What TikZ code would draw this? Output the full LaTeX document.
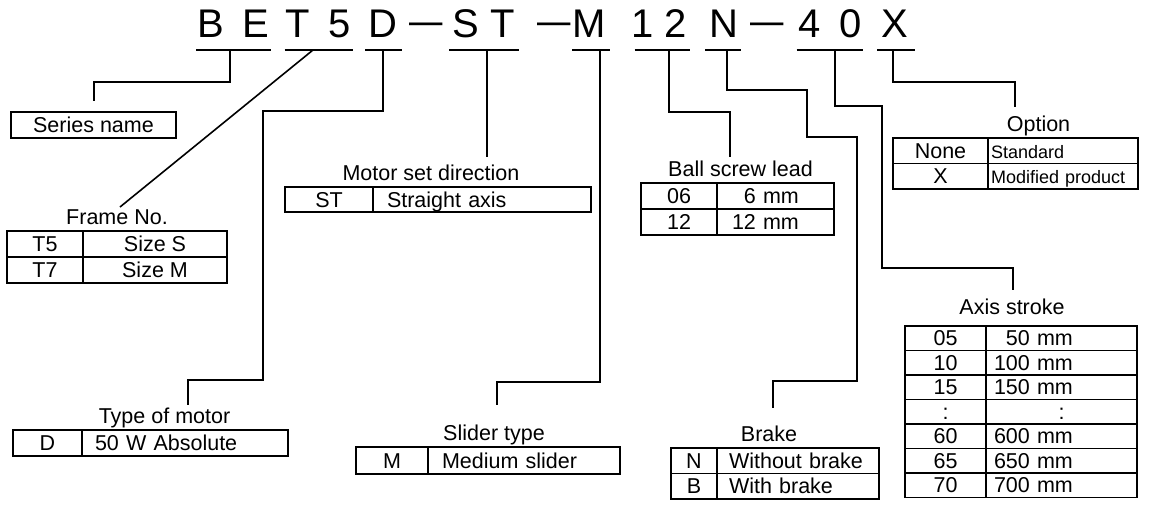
\documentclass[tikz,border=0pt]{standalone}
\usepackage{graphicx}
\usepackage{fontspec}
\setmainfont{Liberation Sans}
\usetikzlibrary{positioning,calc}

\begin{document}
\begin{tikzpicture}[x=1pt, y=-1pt,
    code/.style={inner sep=0, anchor=base, font=\fontsize{40}{48}\selectfont},
    cell/.style={draw, line width=1.8pt, outer sep=0, inner sep=0, minimum height=26pt, text height=18pt, text depth=3pt, font=\fontsize{21.5}{25}\selectfont},
    val/.style n args={2}{cell, align=left, inner xsep=#1, text width=#2},
    hd/.style={inner sep=0, text height=15pt, text depth=5pt, font=\fontsize{21.5}{25}\selectfont},
    wire/.style={line width=1.6pt}
]
\useasboundingbox (0,0) rectangle (1150,507);

% model code
\node[code] (cB) at (211,37) {B};
\node[code] (cE) at (256,37) {E};
\node[code] (cT) at (298,37) {T};
\node[code] (c5) at (340,37) {5};
\node[code] (cD) at (383,37) {D};
\node[code] (cDa) at (426,37) {\raisebox{3pt}{\scalebox{1.5}[1]{–}}};
\node[code] (cS) at (466,37) {S};
\node[code] (cTb) at (503,37) {T};
\node[code] (cDb) at (554,37) {\raisebox{3pt}{\scalebox{1.5}[1]{–}}};
\node[code] (cM) at (589,37) {M};
\node[code] (c1) at (643,37) {1};
\node[code] (c2) at (676,37) {2};
\node[code] (cN) at (724,37) {N};
\node[code] (cDc) at (767,37) {\raisebox{3pt}{\scalebox{1.5}[1]{–}}};
\node[code] (c4) at (810,37) {4};
\node[code] (c0) at (851,37) {0};
\node[code] (cX) at (895,37) {X};

% underlines
\draw[wire] ([xshift=-1pt,yshift=-13pt]cB.base west) -- ([xshift=1pt,yshift=-13pt]cE.base east);
\draw[wire] ([xshift=-1pt,yshift=-13pt]cT.base west) -- ([xshift=2pt,yshift=-13pt]c5.base east);
\draw[wire] ([xshift=-3pt,yshift=-13pt]cD.base west) -- ([xshift=4pt,yshift=-13pt]cD.base east);
\draw[wire] ([xshift=-3pt,yshift=-13pt]cS.base west) -- ([xshift=4pt,yshift=-13pt]cTb.base east);
\draw[wire] ([xshift=0pt,yshift=-13pt]cM.base west) -- ([xshift=4pt,yshift=-13pt]cM.base east);
\draw[wire] ([xshift=3pt,yshift=-13pt]c1.base west) -- ([xshift=3pt,yshift=-13pt]c2.base east);
\draw[wire] ([xshift=-4pt,yshift=-13pt]cN.base west) -- ([xshift=2pt,yshift=-13pt]cN.base east);
\draw[wire] ([xshift=-2pt,yshift=-13pt]c4.base west) -- ([xshift=1pt,yshift=-13pt]c0.base east);
\draw[wire] ([xshift=-4pt,yshift=-13pt]cX.base west) -- ([xshift=6pt,yshift=-13pt]cX.base east);

\coordinate (tBE) at (230,50);
\coordinate (tT5) at (313,50);
\coordinate (tD) at (383,50);
\coordinate (tST) at (487,50);
\coordinate (tM) at (600,50);
\coordinate (t12) at (669,50);
\coordinate (tN) at (727,50);
\coordinate (t40) at (835,50);
\coordinate (tX) at (893,50);

% Series name
\node[cell, minimum width=165pt] (sName) at (93.5,125) {Series name};

% Frame No.
\node[cell, minimum width=76pt, anchor=north west] (fT5) at (7,231) {T5};
\node[cell, minimum width=144pt, right=0pt of fT5] (fS) {Size S};
\node[cell, minimum width=76pt, below=0pt of fT5] (fT7) {T7};
\node[cell, minimum width=144pt, right=0pt of fT7] (fM) {Size M};
\node[hd, above=1pt] (hFrame) at ($(fT5.north west)!.5!(fS.north east)$) {Frame No.};

% Motor set direction
\node[cell, minimum height=25pt, minimum width=88pt, anchor=north west] (mST) at (285,187) {ST};
\node[val={14pt}{190pt}, minimum height=25pt, right=0pt of mST] (mAxis) {Straight axis};
\node[hd, above=1pt, xshift=-7pt] (hMotSet) at ($(mST.north west)!.5!(mAxis.north east)$) {Motor set direction};

% Type of motor
\node[cell, minimum width=69pt, anchor=north west] (tyD) at (13,430) {D};
\node[val={13pt}{180pt}, right=0pt of tyD] (tyAbs) {50 W Absolute};
\node[hd, above=1pt, xshift=14pt] (hType) at ($(tyD.north west)!.5!(tyAbs.north east)$) {Type of motor};

% Slider type
\node[cell, minimum height=27pt, minimum width=72pt, anchor=north west] (slM) at (356,447) {M};
\node[val={14pt}{164pt}, minimum height=27pt, right=0pt of slM] (slMed) {Medium slider};
\node[hd, above=1pt, xshift=6pt] (hSlider) at ($(slM.north west)!.5!(slMed.north east)$) {Slider type};

% Ball screw lead
\node[cell, minimum width=76pt, anchor=north west] (b06) at (641,183) {06};
\node[val={15pt}{87pt}, right=0pt of b06] (b6) {\phantom{1}6 mm};
\node[cell, minimum width=76pt, below=0pt of b06] (b12) {12};
\node[val={15pt}{87pt}, right=0pt of b12] (b12v) {12 mm};
\node[hd, above=1pt, xshift=3pt] (hBall) at ($(b06.north west)!.5!(b6.north east)$) {Ball screw lead};

% Brake
\node[cell, minimum height=25.5pt, minimum width=46pt, anchor=north west] (brN) at (671,448) {N};
\node[val={12pt}{138pt}, minimum height=25.5pt, right=0pt of brN] (brWo) {Without brake};
\node[cell, minimum height=25.5pt, minimum width=46pt, below=0pt of brN] (brB) {B};
\node[val={12pt}{138pt}, minimum height=25.5pt, right=0pt of brB] (brW) {With brake};
\node[hd, above=1pt, xshift=-6pt] (hBrake) at ($(brN.north west)!.5!(brWo.north east)$) {Brake};

% Axis stroke
\node[cell, minimum height=24.5pt, minimum width=81pt, anchor=north west] (a05) at (905,326) {05};
\node[val={8pt}{135pt}, minimum height=24.5pt, right=0pt of a05] (a50) {\phantom{1}50 mm};
\node[cell, minimum height=24.5pt, minimum width=81pt, below=0pt of a05] (a10) {10};
\node[val={8pt}{135pt}, minimum height=24.5pt, right=0pt of a10] (a100) {100 mm};
\node[cell, minimum height=24.5pt, minimum width=81pt, below=0pt of a10] (a15) {15};
\node[val={8pt}{135pt}, minimum height=24.5pt, right=0pt of a15] (a150) {150 mm};
\node[cell, minimum height=24.5pt, minimum width=81pt, below=0pt of a15] (aDk) {:};
\node[cell, minimum height=24.5pt, minimum width=151pt, right=0pt of aDk] (aDv) {:};
\node[cell, minimum height=24.5pt, minimum width=81pt, below=0pt of aDk] (a60) {60};
\node[val={8pt}{135pt}, minimum height=24.5pt, right=0pt of a60] (a600) {600 mm};
\node[cell, minimum height=24.5pt, minimum width=81pt, below=0pt of a60] (a65) {65};
\node[val={8pt}{135pt}, minimum height=24.5pt, right=0pt of a65] (a650) {650 mm};
\node[cell, minimum height=24.5pt, minimum width=81pt, below=0pt of a65] (a70) {70};
\node[val={8pt}{135pt}, minimum height=24.5pt, right=0pt of a70] (a700) {700 mm};
\node[hd, above=6pt, xshift=-9pt] (hAxis) at ($(a05.north west)!.5!(a50.north east)$) {Axis stroke};

% Option
\node[cell, minimum height=25.5pt, minimum width=95pt, anchor=north west] (oNone) at (893,138) {None};
\node[val={3pt}{144pt}, minimum height=25.5pt, right=0pt of oNone, font=\fontsize{18}{22}\selectfont] (oStd) {Standard};
\node[cell, minimum height=25.5pt, minimum width=95pt, below=0pt of oNone] (oX) {X};
\node[val={3pt}{144pt}, minimum height=25.5pt, right=0pt of oX, font=\fontsize{18}{22}\selectfont] (oMod) {Modified product};
\node[hd, above=1pt, xshift=23pt] (hOption) at ($(oNone.north west)!.5!(oStd.north east)$) {Option};

% leader lines
\draw[wire] (tBE) |- ++(-136,32) -- ++(0,19);
\draw[wire] (tT5) -- ++(-193,157);
\draw[wire] (tD) |- ++(-120,61) |- ++(-75,269) -- ++(0,25);
\draw[wire] (tST) -- ++(0,107);
\draw[wire] (tM) |- ++(-103,332) -- ++(0,23);
\draw[wire] (t12) |- ++(61,62) -- ++(0,45);
\draw[wire] (tN) |- ++(80,40) |- ++(50,47) |- ++(-84,244) -- ++(0,27);
\draw[wire] (t40) |- ++(47,56) |- ++(131,162) -- ++(0,22);
\draw[wire] (tX) |- ++(122,32) -- ++(0,25);

\end{tikzpicture}
\end{document}
